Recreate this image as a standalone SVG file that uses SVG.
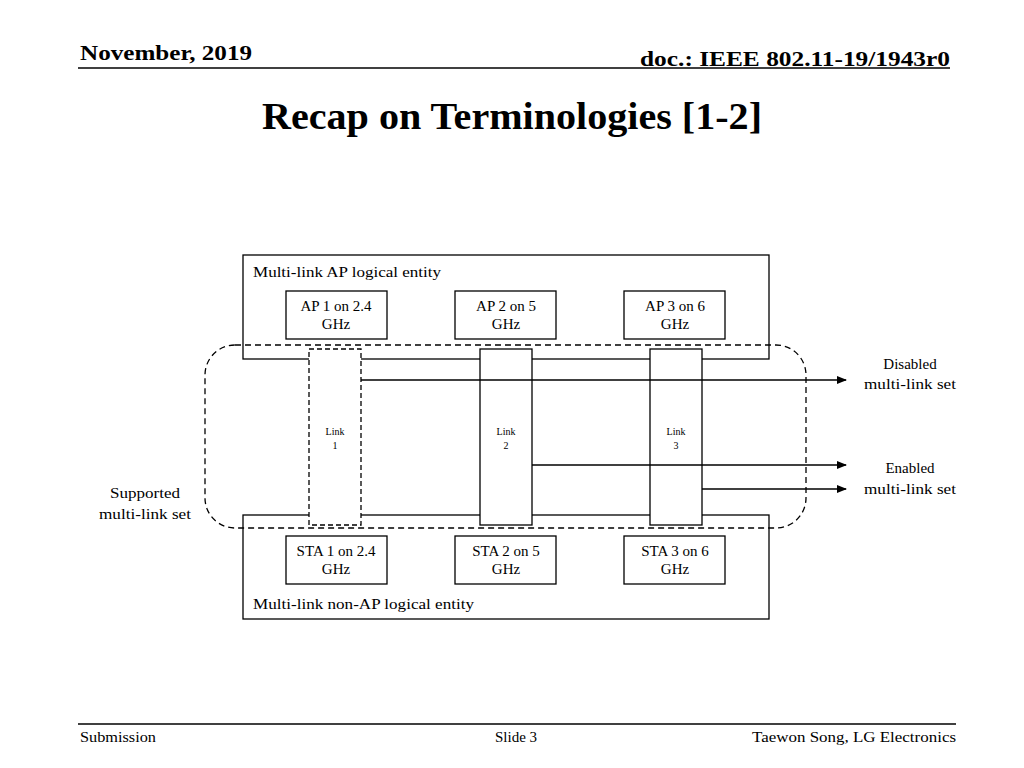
<svg xmlns="http://www.w3.org/2000/svg" width="1024" height="768" viewBox="0 0 1024 768">
<style>
text{font-family:"Liberation Serif",serif;fill:#000}
.b{fill:#fff;stroke:#000;stroke-width:1.3}
.s{font-size:15px}
.t{font-size:10px}
.l{stroke:#000;stroke-width:1.5;fill:none}
</style>
<defs><marker id="a" markerWidth="10" markerHeight="8" refX="9" refY="4" orient="auto" markerUnits="userSpaceOnUse"><path d="M0,0L10,4L0,8z" fill="#000"/></marker></defs>
<rect width="1024" height="768" fill="#fff"/>
<text x="80" y="60" font-size="21" font-weight="bold" textLength="172" lengthAdjust="spacingAndGlyphs">November, 2019</text>
<text x="640" y="66" font-size="21" font-weight="bold" textLength="310" lengthAdjust="spacingAndGlyphs">doc.: IEEE 802.11-19/1943r0</text>
<line x1="78" y1="68" x2="950" y2="68" stroke="#000" stroke-width="1.5"/>
<text x="262" y="129" font-size="37" font-weight="bold" textLength="500" lengthAdjust="spacingAndGlyphs">Recap on Terminologies [1-2]</text>
<g id="ap-entity"><rect class="b" x="243" y="255" width="526" height="104"/><text class="s" x="253" y="277" textLength="188" lengthAdjust="spacingAndGlyphs">Multi-link AP logical entity</text></g>
<g id="sta-entity"><rect class="b" x="243" y="515" width="526" height="104"/><text class="s" x="253" y="609" textLength="221" lengthAdjust="spacingAndGlyphs">Multi-link non-AP logical entity</text></g>
<g id="ap1"><rect class="b" x="286" y="291" width="101" height="48"/><text class="s" x="336" y="311" text-anchor="middle">AP 1 on 2.4</text><text class="s" x="336" y="329" text-anchor="middle">GHz</text></g>
<g id="ap2"><rect class="b" x="455" y="291" width="101" height="48"/><text class="s" x="506" y="311" text-anchor="middle">AP 2 on 5</text><text class="s" x="506" y="329" text-anchor="middle">GHz</text></g>
<g id="ap3"><rect class="b" x="624" y="291" width="101" height="48"/><text class="s" x="675" y="311" text-anchor="middle">AP 3 on 6</text><text class="s" x="675" y="329" text-anchor="middle">GHz</text></g>
<g id="sta1"><rect class="b" x="286" y="536" width="101" height="48"/><text class="s" x="336" y="556" text-anchor="middle">STA 1 on 2.4</text><text class="s" x="336" y="574" text-anchor="middle">GHz</text></g>
<g id="sta2"><rect class="b" x="455" y="536" width="101" height="48"/><text class="s" x="506" y="556" text-anchor="middle">STA 2 on 5</text><text class="s" x="506" y="574" text-anchor="middle">GHz</text></g>
<g id="sta3"><rect class="b" x="624" y="536" width="101" height="48"/><text class="s" x="675" y="556" text-anchor="middle">STA 3 on 6</text><text class="s" x="675" y="574" text-anchor="middle">GHz</text></g>
<g id="link1"><rect class="b" x="309" y="349" width="52" height="176" stroke-dasharray="5,3"/><text class="t" x="335" y="435" text-anchor="middle">Link</text><text class="t" x="335" y="449" text-anchor="middle">1</text></g>
<g id="link2"><rect class="b" x="480" y="349" width="52" height="176"/><text class="t" x="506" y="435" text-anchor="middle">Link</text><text class="t" x="506" y="449" text-anchor="middle">2</text></g>
<g id="link3"><rect class="b" x="650" y="349" width="52" height="176"/><text class="t" x="676" y="435" text-anchor="middle">Link</text><text class="t" x="676" y="449" text-anchor="middle">3</text></g>
<g id="connectors">
<line class="l" x1="361" y1="380" x2="846" y2="380" marker-end="url(#a)"/>
<line class="l" x1="532" y1="465" x2="846" y2="465" marker-end="url(#a)"/>
<line class="l" x1="702" y1="489" x2="846" y2="489" marker-end="url(#a)"/>
</g>
<g id="supported"><rect x="205" y="345" width="601" height="183" rx="30" fill="none" stroke="#000" stroke-width="1.3" stroke-dasharray="6,4"/>
<text class="s" x="145" y="498" text-anchor="middle" textLength="70" lengthAdjust="spacingAndGlyphs">Supported</text><text class="s" x="145" y="519" text-anchor="middle" textLength="92" lengthAdjust="spacingAndGlyphs">multi-link set</text></g>
<g id="disabled"><text class="s" x="910" y="369" text-anchor="middle">Disabled</text><text class="s" x="910" y="389" text-anchor="middle" textLength="92" lengthAdjust="spacingAndGlyphs">multi-link set</text></g>
<g id="enabled"><text class="s" x="910" y="473" text-anchor="middle">Enabled</text><text class="s" x="910" y="494" text-anchor="middle" textLength="92" lengthAdjust="spacingAndGlyphs">multi-link set</text></g>
<line x1="78" y1="724" x2="956" y2="724" stroke="#000" stroke-width="1.3"/>
<text x="80" y="742" font-size="15" textLength="76" lengthAdjust="spacingAndGlyphs">Submission</text>
<text x="516" y="742" font-size="15" text-anchor="middle">Slide 3</text>
<text x="752" y="742" font-size="15" textLength="204" lengthAdjust="spacingAndGlyphs">Taewon Song, LG Electronics</text>
</svg>
